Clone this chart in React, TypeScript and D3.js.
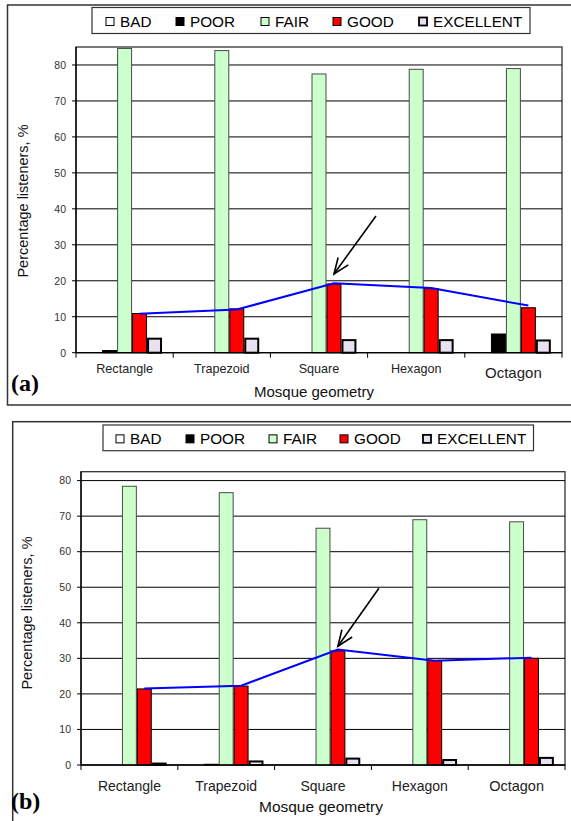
import React from 'react';
import * as d3 from 'd3';

// categories and series
const categories = ['Rectangle', 'Trapezoid', 'Square', 'Hexagon', 'Octagon'];
const seriesNames = ['BAD', 'POOR', 'FAIR', 'GOOD', 'EXCELLENT'];
const yTicks = [0, 10, 20, 30, 40, 50, 60, 70, 80];

// panel (a)
const badA = [0, 0, 0, 0, 0];
const poorA = [0.6, 0, 0, 0, 5.2];
const fairA = [84.6, 84.0, 77.5, 78.8, 79.0];
const goodA = [10.9, 12.2, 19.1, 17.8, 12.5];
const excellentA = [3.9, 3.9, 3.5, 3.5, 3.4];
const trendA = [10.8, 12.0, 19.3, 18.0, 13.1];

// panel (b)
const badB = [0, 0, 0, 0, 0];
const poorB = [0, 0.2, 0, 0, 0];
const fairB = [78.4, 76.6, 66.6, 69.0, 68.4];
const goodB = [21.4, 22.2, 32.1, 29.4, 30.0];
const excellentB = [0.4, 1.0, 1.8, 1.4, 2.0];
const trendB = [21.5, 22.3, 32.5, 29.3, 30.2];

const fills = ['#ffffff', '#000000', '#ccffcc', '#ff0000', '#e9e1ef'];
const strokes = ['#000', '#000', '#4a4a4a', '#000', '#000'];
const strokeWidths = [1, 1, 1, 1, 2];

const SANS = '"Liberation Sans", Arial, sans-serif';
const SERIF = '"Liberation Serif", "Times New Roman", serif';

const layoutA = {
  frame: { x: 7.5, y: 5, w: 580, h: 400 },
  plot: { left: 76, right: 562, top: 47, bottom: 352.7 },
  yMax: 85,
  legend: { x: 92, y: 7.5, w: 438, h: 26 },
  legendOffsets: [14, 84, 169, 241, 327],
  yTitle: { x: 27.5, y: 201 },
  catBaseline: [373, 373, 373, 373, 378],
  catSize: [12.6, 12.6, 12.6, 12.6, 15],
  xTitle: { x: 314, y: 397, size: 15 },
  tag: { x: 11, y: 390.5 },
  arrow: { at: 'Square', value: 21.9, dx: 42, dy: -58 },
};

const layoutB = {
  frame: { x: 12.7, y: 421.7, w: 580, h: 420 },
  plot: { left: 81, right: 565, top: 471.7, bottom: 765 },
  yMax: 82.5,
  legend: { x: 103, y: 425, w: 430.5, h: 25.7 },
  legendOffsets: [13, 83, 166, 237, 320],
  yTitle: { x: 31.5, y: 613 },
  catBaseline: [790.5, 790.5, 790.5, 790.5, 791],
  catSize: [14, 14, 14, 14, 14.5],
  xTitle: { x: 321, y: 811.5, size: 15.5 },
  tag: { x: 11, y: 809 },
  arrow: { at: 'Square', value: 33.4, dx: 41, dy: -58 },
};

function Panel({ label, series, trend, layout }) {
  const { plot, frame, legend } = layout;
  const x = d3.scaleBand().domain(categories).range([plot.left, plot.right])
    .paddingInner(0.23).paddingOuter(0.115);
  const xs = d3.scaleBand().domain(seriesNames).range([0, x.bandwidth()]);
  const y = d3.scaleLinear().domain([0, layout.yMax]).range([plot.bottom, plot.top]);
  const step = x.step();
  const goodCenter = (c) => x(c) + xs('GOOD') + xs.bandwidth() / 2;

  const line = d3.line<number>()
    .x((d, i) => goodCenter(categories[i]))
    .y(d => y(d));

  // arrow annotation
  const tipX = goodCenter(layout.arrow.at);
  const tipY = y(layout.arrow.value);
  const tailX = tipX + layout.arrow.dx;
  const tailY = tipY + layout.arrow.dy;
  const len = Math.hypot(tailX - tipX, tailY - tipY);
  const ux = (tailX - tipX) / len, uy = (tailY - tipY) / len;
  const rot = (a) => [ux * Math.cos(a) - uy * Math.sin(a), ux * Math.sin(a) + uy * Math.cos(a)];
  const [b1x, b1y] = rot(0.38);
  const [b2x, b2y] = rot(-0.38);
  const hl = 17;

  return (
    <g>
      <rect x={frame.x} y={frame.y} width={frame.w} height={frame.h}
        fill="none" stroke="#333" strokeWidth={1.5} />

      {/* plot frame and grid */}
      <rect x={plot.left} y={plot.top} width={plot.right - plot.left} height={plot.bottom - plot.top}
        fill="#fff" stroke="#333" strokeWidth={1.3} />
      {yTicks.filter(t => t > 0).map(t => (
        <line key={t} x1={plot.left} x2={plot.right} y1={y(t)} y2={y(t)} stroke="#000" strokeWidth={1} />
      ))}
      {yTicks.map(t => (
        <g key={'yt' + t}>
          <line x1={plot.left - 4} x2={plot.left} y1={y(t)} y2={y(t)} stroke="#000" />
          <text x={plot.left - 10} y={y(t) + 3.8} textAnchor="end" fontFamily={SANS}
            fontSize={10.5} fill="#333">{t}</text>
        </g>
      ))}

      {/* bars */}
      {categories.map((c, ci) => (
        <g key={c}>
          {seriesNames.map((s, si) => {
            const v = series[si][ci];
            if (!v) return null;
            const sw = strokeWidths[si];
            return (
              <rect key={s} x={x(c) + xs(s) + sw / 2} y={y(v)}
                width={xs.bandwidth() - sw} height={y(0) - y(v)}
                fill={fills[si]} stroke={strokes[si]} strokeWidth={sw} />
            );
          })}
        </g>
      ))}

      {/* axes */}
      <line x1={plot.left} x2={plot.left} y1={plot.top} y2={plot.bottom} stroke="#000" strokeWidth={1.3} />
      <line x1={plot.left} x2={plot.right} y1={plot.bottom} y2={plot.bottom} stroke="#000" strokeWidth={1.3} />
      {d3.range(categories.length + 1).map(i => (
        <line key={'xt' + i} x1={plot.left + i * step} x2={plot.left + i * step}
          y1={plot.bottom} y2={plot.bottom + 5} stroke="#000" />
      ))}
      {categories.map((c, ci) => (
        <text key={'cl' + c} x={x(c) + x.bandwidth() / 2} y={layout.catBaseline[ci]}
          textAnchor="middle" fontFamily={SANS} fontSize={layout.catSize[ci]} fill="#222">{c}</text>
      ))}

      {/* trend line */}
      <path d={line(trend)} fill="none" stroke="#0000ff" strokeWidth={2} />

      {/* arrow */}
      <line x1={tailX} y1={tailY} x2={tipX} y2={tipY} stroke="#000" strokeWidth={1.6} />
      <path d={`M${tipX + b1x * hl},${tipY + b1y * hl}L${tipX},${tipY}L${tipX + b2x * hl},${tipY + b2y * hl}`}
        fill="none" stroke="#000" strokeWidth={1.6} />

      {/* legend */}
      <rect x={legend.x} y={legend.y} width={legend.w} height={legend.h}
        fill="#fff" stroke="#333" strokeWidth={1.2} />
      {seriesNames.map((s, si) => {
        const lx = legend.x + layout.legendOffsets[si];
        const cy = legend.y + legend.h / 2 + 1;
        return (
          <g key={'lg' + s}>
            <rect x={lx} y={cy - 4} width={8} height={8} fill={fills[si]}
              stroke="#000" strokeWidth={si === 4 ? 1.8 : 1} />
            <text x={lx + 14} y={cy + 5.2} fontFamily={SANS} fontSize={15.3} fill="#000">{s}</text>
          </g>
        );
      })}

      {/* titles */}
      <text transform={`translate(${layout.yTitle.x},${layout.yTitle.y}) rotate(-90)`}
        textAnchor="middle" fontFamily={SANS} fontSize={14.5} fill="#111">Percentage listeners, %</text>
      <text x={layout.xTitle.x} y={layout.xTitle.y} textAnchor="middle" fontFamily={SANS}
        fontSize={layout.xTitle.size} fill="#111">Mosque geometry</text>
      <text x={layout.tag.x} y={layout.tag.y} fontFamily={SERIF} fontWeight="bold"
        fontSize={24} fill="#000">{label}</text>
    </g>
  );
}

export default function App() {
  return (
    <svg width={571} height={821} style={{ position: 'absolute', left: 0, top: 0, background: '#fff' }}>
      <rect width={571} height={821} fill="#fff" />
      <Panel label="(a)" series={[badA, poorA, fairA, goodA, excellentA]} trend={trendA} layout={layoutA} />
      <Panel label="(b)" series={[badB, poorB, fairB, goodB, excellentB]} trend={trendB} layout={layoutB} />
    </svg>
  );
}
